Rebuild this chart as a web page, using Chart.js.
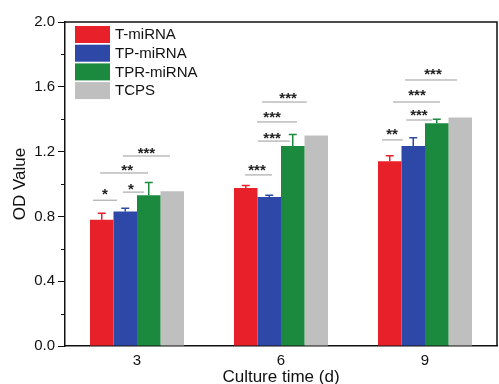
<!DOCTYPE html>
<html>
<head>
<meta charset="utf-8">
<script src="https://cdn.jsdelivr.net/npm/chart.js@4"></script>
<style>
  html, body { margin: 0; padding: 0; background: #fff; }
  #wrap { width: 499px; height: 384px; }
</style>
</head>
<body>
<div id="wrap"><canvas id="odchart"></canvas></div>
<script>
// data
const days = ['3', '6', '9'];
const groups = ['T-miRNA', 'TP-miRNA', 'TPR-miRNA', 'TCPS'];
const tMirna   = [0.78, 0.975, 1.14];
const tpMirna  = [0.83, 0.92, 1.235];
const tprMirna = [0.93, 1.235, 1.375];
const tcps     = [0.955, 1.30, 1.41];
const tMirnaErr   = [0.04, 0.015, 0.035];
const tpMirnaErr  = [0.02, 0.01, 0.05];
const tprMirnaErr = [0.08, 0.07, 0.025];
const tcpsErr     = [0, 0, 0];
const colors = ['#e8202a', '#2e48a8', '#1b8a3e', '#bfbfbf'];
const yTicks = [0, 0.4, 0.8, 1.2, 1.6, 2.0];
const xTitle = 'Culture time (d)';
const yTitle = 'OD Value';

// significance marks: group index, text x (in bar widths from group centre), text y, line span, line y
const sigDay   = [0, 0, 0, 0, 1, 1, 1, 1, 2, 2, 2, 2];
const sigText  = ['*', '*', '**', '***', '***', '***', '***', '***', '**', '***', '***', '***'];
const sigTx    = [-1.36, -0.26, -0.42, 0.4, -1.02, -0.38, -0.38, 0.3, -1.4, -0.26, -0.34, 0.34];
const sigTy    = [0.95, 0.985, 1.10, 1.205, 1.10, 1.296, 1.426, 1.543, 1.32, 1.438, 1.562, 1.691];
const sigX0    = [-1.87, -0.6, -1.57, -0.6, -1.53, -0.98, -1.02, -0.81, -1.83, -0.8, -1.36, -0.85];
const sigX1    = [-0.85, 0.3, 0.47, 1.4, -0.38, 0.38, 0.68, 1.1, -0.94, 0.3, 0.64, 1.36];
const sigLy    = [0.90, 0.95, 1.068, 1.173, 1.056, 1.265, 1.383, 1.506, 1.272, 1.395, 1.506, 1.642];

const values = [tMirna, tpMirna, tprMirna, tcps];
const errs = [tMirnaErr, tpMirnaErr, tprMirnaErr, tcpsErr];
const FONT = '"Liberation Sans", Arial, sans-serif';

const extras = {
  id: 'extras',
  afterDatasetsDraw(chart) {
    const ctx = chart.ctx;
    const ca = chart.chartArea;
    const xs = chart.scales.x, ys = chart.scales.y;

    // error bars (upper half only, lower half is behind the bar)
    chart.data.datasets.forEach((ds, di) => {
      const meta = chart.getDatasetMeta(di);
      meta.data.forEach((bar, i) => {
        const e = errs[di][i];
        if (!e) return;
        const yTop = ys.getPixelForValue(values[di][i] + e);
        ctx.save();
        ctx.strokeStyle = ds.backgroundColor;
        ctx.lineWidth = 1.5;
        ctx.beginPath();
        ctx.moveTo(bar.x, bar.y);
        ctx.lineTo(bar.x, yTop);
        ctx.moveTo(bar.x - 4, yTop);
        ctx.lineTo(bar.x + 4, yTop);
        ctx.stroke();
        ctx.restore();
      });
    });

    // significance brackets and stars
    const bw = chart.getDatasetMeta(0).data[0].width;
    ctx.save();
    for (let k = 0; k < sigText.length; k++) {
      const cx = xs.getPixelForValue(sigDay[k]);
      const ly = ys.getPixelForValue(sigLy[k]);
      ctx.strokeStyle = '#9a9a9a';
      ctx.lineWidth = 1;
      ctx.beginPath();
      ctx.moveTo(cx + sigX0[k] * bw, ly);
      ctx.lineTo(cx + sigX1[k] * bw, ly);
      ctx.stroke();
      ctx.fillStyle = '#222';
      ctx.font = 'bold 15px ' + FONT;
      ctx.textAlign = 'center';
      ctx.textBaseline = 'middle';
      ctx.fillText(sigText[k], cx + sigTx[k] * bw, ys.getPixelForValue(sigTy[k]) + 3);
    }
    ctx.restore();

    // frame (top + right) and minor y ticks
    ctx.save();
    ctx.strokeStyle = '#111';
    ctx.lineWidth = 1.5;
    ctx.beginPath();
    ctx.moveTo(ca.left, ca.top);
    ctx.lineTo(ca.right, ca.top);
    ctx.lineTo(ca.right, ca.bottom);
    ctx.stroke();
    ctx.lineWidth = 1;
    for (let v = 0.2; v < 2; v += 0.4) {
      const py = Math.round(ys.getPixelForValue(v)) + 0.5;
      ctx.beginPath();
      ctx.moveTo(ca.left - 4, py);
      ctx.lineTo(ca.left, py);
      ctx.stroke();
    }
    ctx.restore();

    // axis titles
    ctx.save();
    ctx.fillStyle = '#111';
    ctx.font = '17px ' + FONT;
    ctx.textAlign = 'center';
    ctx.textBaseline = 'middle';
    ctx.fillText(xTitle, (ca.left + ca.right) / 2, ca.bottom + 31);
    ctx.translate(20, (ca.top + ca.bottom) / 2);
    ctx.rotate(-Math.PI / 2);
    ctx.fillText(yTitle, 0, 0);
    ctx.restore();

    // legend inside the plot, top left
    ctx.save();
    ctx.font = '15px ' + FONT;
    ctx.textBaseline = 'middle';
    ctx.textAlign = 'left';
    chart.data.datasets.forEach((ds, di) => {
      const top = ca.top + 4 + di * 18.7;
      ctx.fillStyle = ds.backgroundColor;
      ctx.fillRect(ca.left + 10, top, 35, 17);
      ctx.fillStyle = '#111';
      ctx.fillText(ds.label, ca.left + 50, top + 9);
    });
    ctx.restore();
  }
};

const odchart = document.getElementById('odchart');

const chart = new Chart(odchart, {
  type: 'bar',
  data: {
    labels: days,
    datasets: groups.map((g, i) => ({
      label: g,
      data: values[i],
      backgroundColor: colors[i],
      borderWidth: 0,
      categoryPercentage: 0.653,
      barPercentage: 1.0
    }))
  },
  options: {
    responsive: true,
    maintainAspectRatio: false,
    animation: false,
    layout: { padding: { top: 22, right: 2, left: 0, bottom: 0 } },
    plugins: {
      legend: { display: false },
      tooltip: { enabled: false }
    },
    scales: {
      x: {
        grid: { display: false, drawTicks: false },
        border: { display: true, color: '#111', width: 1.5 },
        ticks: {
          color: '#111',
          padding: 6,
          font: { family: FONT, size: 15 }
        },
        afterFit: (s) => { s.height = 38; }
      },
      y: {
        min: 0,
        max: 2.0,
        afterBuildTicks: (s) => { s.ticks = yTicks.map(v => ({ value: v })); },
        grid: {
          drawOnChartArea: false,
          drawTicks: true,
          tickLength: 7,
          tickColor: '#111',
          tickWidth: 1
        },
        border: { display: true, color: '#111', width: 1.5 },
        ticks: {
          color: '#111',
          padding: 3,
          font: { family: FONT, size: 15 },
          callback: (v) => Number(v).toFixed(1)
        },
        afterFit: (s) => { s.width = 65; }
      }
    }
  },
  plugins: [extras]
});
</script>
</body>
</html>
